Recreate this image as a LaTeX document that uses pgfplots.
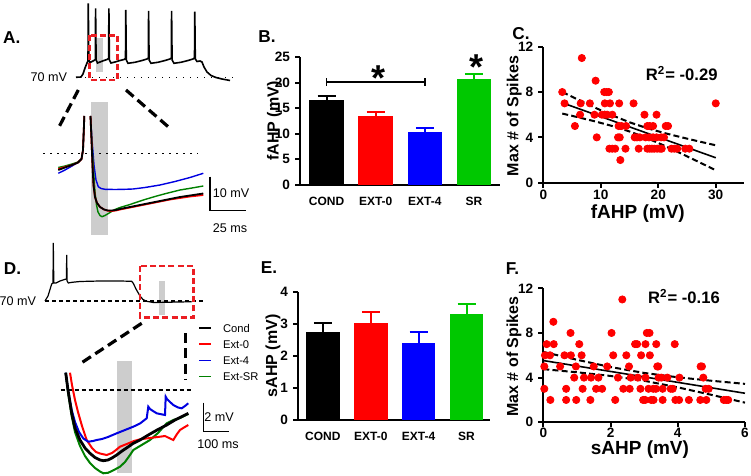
\documentclass[border=0pt]{standalone}
\usepackage{fontspec}
\setmainfont{Liberation Sans}
\usepackage{pgfplots}
\pgfplotsset{compat=1.18}

\definecolor{barred}{RGB}{255,0,0}
\definecolor{barblue}{RGB}{0,0,255}
\definecolor{bargreen}{RGB}{0,200,0}
\definecolor{trgreen}{RGB}{0,128,0}
\definecolor{trblue}{RGB}{0,0,225}
\definecolor{boxred}{RGB}{235,30,35}
\definecolor{lightgr}{RGB}{205,205,205}

\pgfplotsset{
  statax/.style={
    scale only axis, anchor=south west, clip=false,
    axis lines*=left, axis line style={line width=1pt,-},
    tick style={line width=1pt, black}, tick align=outside, major tick length=2.5pt,
    ticklabel style={font=\bfseries\fontsize{6.8}{7}\selectfont},
    yticklabel shift=-1pt,
    /pgf/number format/assume math mode=true,
    every axis y label/.style={rotate=90, anchor=center, font=\bfseries\fontsize{8}{9}\selectfont},
    every axis x label/.style={anchor=center, font=\bfseries\fontsize{9.5}{10}\selectfont},
  },
  barax/.style={statax, xtick={0,1,2,3}, x tick style={draw=none},
    xticklabel style={font=\bfseries\fontsize{6}{7}\selectfont}},
  errb/.style={ybar, bar width=0.7, bar shift=0pt, fill=#1, draw=none,
    error bars/.cd, y dir=plus, y explicit,
    error bar style={draw=#1, line width=1pt},
    error mark options={rotate=90, mark size=4.5pt, draw=#1, line width=1pt}},
  band/.style={black, line width=1pt, dash pattern=on 3pt off 1.6pt},
}

\begin{document}
\begin{tikzpicture}
\path[use as bounding box] (0,0) rectangle (375.5pt,238pt);

% traces and annotations, drawn in pixel units of the figure
\begin{axis}[at={(0pt,0pt)}, anchor=south west, scale only axis,
  width=375.5pt, height=238pt, xmin=0, xmax=751, ymin=0, ymax=476,
  y dir=reverse, hide axis, clip=false, no marks, unbounded coords=jump]

% ---- A, top
\fill[lightgr] (96,38.3) rectangle (102.7,71.7);
\draw[line width=0.6pt, dash pattern=on 0.6pt off 2.9pt] (78,77.3) -- (235,77.3);
\addplot[black, line width=0.8pt] coordinates {
(76,77.3) (81,77) (83,74) (85,68) (87,63) (88,61) (88.3,3.3) (88.8,60) (90,62.5)
(92,61.5) (94,60.5) (95.3,59.5) (95.6,8.3) (96.1,60) (97.5,63) (100,62) (104,60.5)
(107,59.5) (108.6,58.5) (108.9,8.3) (109.4,60) (111,63) (115,62) (120,60.5) (124,59.5)
(125.5,58.5) (125.8,10) (126.3,60) (128,63.3) (135,62.3) (142,60.5) (147,59)
(148.3,58) (148.6,11) (149.1,60) (151,63.3) (158,62.3) (165,60.5) (170,59)
(171.3,58) (171.6,11) (172.1,60) (174,63.3) (181,62.3) (188,60.5) (193,59)
(194.5,58) (194.8,11.7) (195.3,59) (197,61.5) (200,61) (202,62) (204,67) (207,72)
(211,75.5) (216,77.5) (222,79) (230,80.5)};
\draw[boxred, line width=1.3pt, dash pattern=on 3pt off 1.6pt] (89.5,35.5) rectangle (117.5,80);
\draw[line width=1.6pt, dash pattern=on 5pt off 2.6pt] (78.3,90) -- (58.3,128.3);
\draw[line width=1.6pt, dash pattern=on 5pt off 2.6pt] (126,90) -- (170,128.3);

% ---- A, zoom
\fill[lightgr] (91,102.3) rectangle (108.3,235);
\draw[line width=0.6pt, dash pattern=on 0.6pt off 2.9pt] (43.3,153.3) -- (198.3,153.3);
\addplot[trblue, line width=0.7pt] coordinates {
(58.3,173.3) (65,170) (72,166) (78,162.5) (81.5,159) (83,150) (84,125) (84.3,116) (87,nan)
(90.5,116) (92,140) (94,165) (96,180) (98.3,186.7) (101,188.5) (105,189.3) (115,189.5)
(125,189.3) (133,189) (145,187.5) (160,185) (175,181.5) (190,177.5) (203.3,173.3)};
\addplot[trgreen, line width=0.7pt] coordinates {
(58.3,167.5) (65,166) (72,164) (78,162) (81.5,159) (83,150) (84,125) (84.3,116) (87,nan)
(90.5,116) (92,145) (93.5,170) (95,192) (96.5,205) (98,212) (100,215.5) (102,216.7)
(105,215.5) (110,212.5) (115,209.5) (120,207.5) (130,204.5) (143.3,200) (155,196.5)
(166.7,193.3) (180,190) (192,188) (203.3,186)};
\addplot[barred, line width=0.9pt] coordinates {
(58.3,169) (65,167) (72,165) (78,162.5) (81.5,159) (83,150) (84,125) (84.3,116) (87,nan)
(90.5,116) (91.5,140) (92.5,165) (93.5,185) (95,197) (97,203) (100,207) (104,209.5)
(108,210.8) (112,211) (116,210.5) (120,209.5) (130,207.5) (140,205.5) (150,203.5)
(160,201.5) (170,199.5) (180,198) (190,196.5) (203.3,195)};
\addplot[black, line width=0.9pt] coordinates {
(58.3,170) (65,167.5) (72,165) (78,162.5) (81.5,159) (83,150) (84,125) (84.3,116) (87,nan)
(90.5,116) (91.5,140) (92.5,165) (93.5,185) (95,197) (97,203) (100,207) (104,209.5)
(108,210.5) (112,210.5) (116,210) (120,209) (130,207) (140,205) (150,203) (160,201)
(170,199) (180,197) (190,195.5) (203.3,193.5)};
\draw[line width=0.7pt] (210,176.7) -- (210,210.7) -- (246,210.7);
\node[font=\fontsize{6.3}{7}\selectfont] at (231,192.7) {10 mV};
\node[font=\fontsize{6.3}{7}\selectfont] at (230,227.7) {25 ms};

% ---- D, top
\fill[lightgr] (159.3,280.7) rectangle (164.7,315);
\draw[line width=0.6pt, dash pattern=on 2pt off 1.5pt] (45,301) -- (203.3,301);
\addplot[black, line width=0.6pt] coordinates {
(45,301) (48,296) (51.7,284) (53,283) (53.3,243) (53.8,283) (56,283) (60,281)
(65,279.3) (66.4,279) (66.7,255) (67.1,281) (68.3,283) (72,282.3) (80,281.5) (100,281)
(120,281) (131.7,281.3) (133.3,283.3) (136,289) (140,296) (143,299.5) (146.7,301.3)
(153.3,302.5) (165,302.3) (180,302) (191.7,301.7)};
\draw[boxred, line width=1.3pt, dash pattern=on 3pt off 1.6pt] (140,266) rectangle (193.3,317.3);
\draw[line width=1.6pt, dash pattern=on 5pt off 2.6pt] (141.7,323.3) -- (81.7,362.7);
\draw[line width=1.6pt, dash pattern=on 5pt off 2.6pt] (185.7,333.3) -- (185.7,380);
\node[anchor=east, font=\fontsize{6.3}{7}\selectfont] at (43,301) {70 mV};
\node[anchor=east, font=\fontsize{6.3}{7}\selectfont] at (74,77.3) {70 mV};

% legend of D
\draw[black, line width=0.8pt] (199.3,328.3) -- (210.7,328.3);
\draw[barred, line width=0.8pt] (199.3,344.3) -- (210.7,344.3);
\draw[trblue, line width=0.8pt] (199.3,360.7) -- (210.7,360.7);
\draw[trgreen, line width=0.8pt] (199.3,376.7) -- (210.7,376.7);
\node[anchor=west, font=\fontsize{5.6}{7}\selectfont] at (216,328.3) {Cond};
\node[anchor=west, font=\fontsize{5.6}{7}\selectfont] at (216,344.3) {Ext-0};
\node[anchor=west, font=\fontsize{5.6}{7}\selectfont] at (216,360.7) {Ext-4};
\node[anchor=west, font=\fontsize{5.6}{7}\selectfont] at (216,376.7) {Ext-SR};

% ---- D, zoom
\fill[lightgr] (117.3,360.7) rectangle (131.7,472.7);
\draw[line width=0.6pt, dash pattern=on 2pt off 1.5pt] (60.7,390) -- (191.7,390);
\addplot[trgreen, line width=1pt] coordinates {
(65.7,372.7) (68,392) (71.7,416) (75,432) (80,446) (85,456) (90,463) (95,468)
(100,471.5) (103.3,473.3) (108,472.8) (113,470.5) (120,466.7) (125,462) (130,455)
(133.3,450) (140,446) (150,440) (158,433) (166.7,423.3) (173.3,420) (180,418) (188.3,414)};
\addplot[barred, line width=1pt] coordinates {
(70,372.7) (72,385) (75,400) (78,412) (82,426) (86.7,440) (92,448) (96,452) (100,453.5)
(106.7,455) (112,453) (116,450) (120,446.7) (128,443.5) (134,441) (140,439.3)
(150,438) (160,436.7) (165,436) (168,437.5) (173.3,440) (177,434) (180,430)
(184,427.5) (188.3,425)};
\addplot[trblue, line width=1pt] coordinates {
(65.7,372.7) (68,390) (71.7,410) (75,422) (79,432) (83.3,438.5) (88.3,441.7) (93,441)
(96.7,440) (102,439) (108,437) (116.7,433.3) (125,430) (133.3,426.7) (140,423.5)
(146.7,418.3) (148.3,406.7) (150,409) (153,411) (156.7,413.3) (160,414) (165,415)
(165.7,396.7) (167,399) (170,402) (173.3,405) (178,407.5) (181.7,408.3) (185,406) (188.3,403.3)};
\addplot[black, line width=1.4pt] coordinates {
(65.7,372.7) (68,390) (71.7,413.3) (75,428) (80,440) (85,448) (90,453.3) (95,457.5)
(100,460) (103.3,460.7) (108,460) (112,458) (116.7,455) (122,451) (128,447)
(133.3,443.3) (140,440) (150,434) (158,429.5) (166.7,425) (175,420) (182,416.5) (188.3,413.3)};
\draw[line width=0.7pt] (203.3,402.7) -- (203.3,431.7) -- (229,431.7);
\node[font=\fontsize{6.3}{7}\selectfont] at (219,416.7) {2 mV};
\node[font=\fontsize{6.3}{7}\selectfont] at (218,444) {100 ms};

% panel letters and R^2 texts
\node[font=\bfseries\fontsize{8.6}{9}\selectfont] at (11.7,37.5) {A.};
\node[font=\bfseries\fontsize{8.6}{9}\selectfont] at (12.5,269) {D.};
\node[font=\bfseries\fontsize{8.6}{9}\selectfont] at (267,37) {B.};
\node[font=\bfseries\fontsize{8.6}{9}\selectfont] at (269,268) {E.};
\node[font=\bfseries\fontsize{8.6}{9}\selectfont] at (521,34) {C.};
\node[font=\bfseries\fontsize{8.6}{9}\selectfont] at (512.5,269) {F.};
\node[font=\bfseries\fontsize{8.3}{9}\selectfont] at (681.7,73.3) {R\textsuperscript{2}= -0.29};
\node[font=\bfseries\fontsize{8.3}{9}\selectfont] at (684,296.5) {R\textsuperscript{2}= -0.16};
\end{axis}

% ---- B
\begin{axis}[barax, at={(150pt,145.65pt)}, width=100pt, height=63.7pt,
  xmin=-0.54, xmax=3.53, ymin=0, ymax=25, ytick={0,5,10,15,20,25},
  xticklabels={COND,EXT-0,EXT-4,SR},
  ylabel={fAHP (mV)}, ylabel style={at={(axis description cs:-0.127,0.5)}}]
\addplot[errb=black] coordinates {(0,16.7) +- (0,0.7)};
\addplot[errb=barred] coordinates {(1,13.4) +- (0,0.9)};
\addplot[errb=barblue] coordinates {(2,10.3) +- (0,0.9)};
\addplot[errb=bargreen] coordinates {(3,20.8) +- (0,0.9)};
\draw[line width=0.9pt] (axis cs:0,20.2) -- (axis cs:2,20.2);
\draw[line width=0.9pt] (axis cs:0,19.4) -- (axis cs:0,21);
\draw[line width=0.9pt] (axis cs:2,19.4) -- (axis cs:2,21);
\node[font=\bfseries\fontsize{18}{18}\selectfont] at (axis cs:1.05,20.9) {*};
\node[font=\bfseries\fontsize{18}{18}\selectfont] at (axis cs:3.05,23.0) {*};
\end{axis}

% ---- E
\begin{axis}[barax, at={(149pt,28pt)}, width=96pt, height=64.15pt,
  xmin=-0.52, xmax=3.49, ymin=0, ymax=4, ytick={0,1,2,3,4},
  xticklabels={COND,EXT-0,EXT-4,SR},
  ylabel={sAHP (mV)}, ylabel style={at={(axis description cs:-0.13,0.5)}}]
\addplot[errb=black] coordinates {(0,2.74) +- (0,0.28)};
\addplot[errb=barred] coordinates {(1,3.03) +- (0,0.35)};
\addplot[errb=barblue] coordinates {(2,2.39) +- (0,0.35)};
\addplot[errb=bargreen] coordinates {(3,3.30) +- (0,0.33)};
\end{axis}

% ---- C
\begin{axis}[statax, at={(271.65pt,146.65pt)}, width=100.6pt, height=68pt,
  xmin=0, xmax=35, ymin=0, ymax=12, xtick={0,10,20,30}, ytick={0,4,8,12},
  xticklabel shift=-2.5pt,
  xlabel={fAHP (mV)}, xlabel style={at={(axis description cs:0.47,-0.228)}},
  ylabel={Max \# of Spikes}, ylabel style={at={(axis description cs:-0.145,0.49)}}]
\addplot[only marks, mark=*, mark size=1.8pt, barred] table {
x y
3.3 8
3.7 7
6.7 11
6.5 7
6.4 6
5.5 5
8.1 7
9.1 9
8.9 6
9.3 4
10.6 8
11.0 8
11.4 8
10.7 7
11.6 7
13.2 7
10.2 6
10.7 6
11.1 6
12.0 6
11.5 3
12.0 3
12.5 3
13.1 5
13.6 5
14.4 5
13.0 4
13.3 4
13.4 2
14.3 3
15.7 7
15.9 4
16.3 4
16.8 4
16.6 3
17.6 6
18.1 5
18.5 5
19.1 5
18.1 3
18.5 3
18.9 3
19.3 3
19.8 3
20.3 3
20.6 3
17.8 4
18.4 4
19.1 4
19.7 4
19.7 6
20.5 4
21.0 4
21.3 5
21.7 5
22.3 3
22.8 3
23.3 3
24.7 3
25.4 3
30.0 7
};
\addplot[black, line width=0.8pt] coordinates {(3.3,7.05) (30,2.20)};
\addplot[band] coordinates {(3.3,8.00) (6,7.34) (9,6.62) (12,5.94) (15,5.33) (18,4.82) (21,4.39) (24,4.01) (27,3.65) (30,3.30)};
\addplot[band] coordinates {(3.3,6.10) (6,5.78) (9,5.41) (12,5.00) (15,4.52) (18,3.94) (21,3.28) (24,2.57) (27,1.84) (30,1.10)};
\end{axis}

% ---- F
\begin{axis}[statax, at={(271.65pt,26.85pt)}, width=100.85pt, height=67pt,
  xmin=0, xmax=6, ymin=0, ymax=12, xtick={0,2,4,6}, ytick={0,4,8,12},
  xticklabel shift=-3pt,
  xlabel={sAHP (mV)}, xlabel style={at={(axis description cs:0.479,-0.2)}},
  ylabel={Max \# of Spikes}, ylabel style={at={(axis description cs:-0.145,0.49)}}]
\addplot[only marks, mark=*, mark size=1.8pt, barred] table {
x y
0.03 5
0.05 6
0.03 3
0.10 7
0.20 6
0.21 2
0.30 9
0.31 7
0.50 5
0.63 6
0.68 3
0.68 2
0.81 8
0.82 6
0.92 4
0.97 5
0.98 2
1.07 7
1.14 6
1.17 3
1.21 4
1.40 2
1.42 4
1.50 5
1.57 3
1.64 4
1.75 3
1.90 5
2.03 8
2.08 6
2.14 2
2.22 4
2.35 11
2.38 3
2.47 6
2.55 5
2.57 3
2.60 4
2.73 7
2.79 7
2.81 4
2.89 3
2.91 6
2.97 2
3.03 2
3.04 7
3.04 4
3.08 8
3.16 8
3.17 6
3.13 3
3.21 2
3.28 2
3.27 3
3.35 3
3.36 7
3.39 5
3.42 5
3.43 4
3.51 4
3.55 2
3.55 3
3.69 4
3.79 3
3.85 3
3.91 7
3.93 2
4.04 2
4.05 4
4.33 2
4.68 5
4.72 5
4.76 4
4.67 2
4.85 2
4.83 3
4.92 3
5.37 2
5.44 2
5.50 2
};
\addplot[black, line width=0.8pt] coordinates {(0,5.53) (6,2.60)};
\addplot[band] coordinates {(0,6.30) (1,5.60) (2,4.95) (3,4.42) (4,4.03) (5,3.72) (6,3.44)};
\addplot[band] coordinates {(0,4.76) (1,4.48) (2,4.15) (3,3.72) (4,3.13) (5,2.46) (6,1.76)};
\end{axis}
\end{tikzpicture}
\end{document}
